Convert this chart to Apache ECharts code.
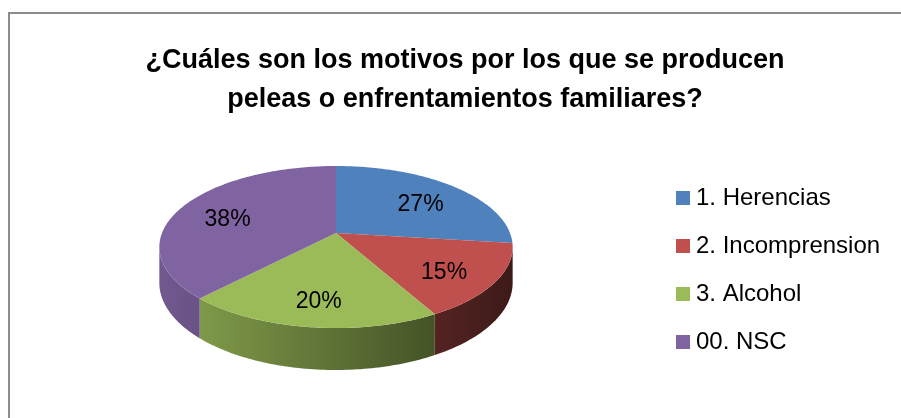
<!DOCTYPE html>
<html>
<head>
<meta charset="utf-8">
<script src="https://cdn.jsdelivr.net/npm/echarts@6/dist/echarts.min.js"></script>
<style>
html, body { margin: 0; padding: 0; background: #fff; overflow: hidden; }
#chart { width: 901px; height: 418px; }
#frame {
  position: absolute; left: 8px; top: 12px;
  width: 1000px; height: 1000px;
  border: 2px solid #8c8c8c; pointer-events: none;
}
</style>
</head>
<body>
<div id="chart"></div>
<div id="frame"></div>
<script>
// data (percent shares)
var categories = ['1. Herencias', '2. Incomprension', '3. Alcohol', '00. NSC'];
var values = [27, 15, 20, 38];
var colors = ['#4F81BD', '#C0504D', '#9BBB59', '#8064A2'];

// 3d pie layout
var CX = 336, CY = 233, RX = 174, RY = 78.6, P = 0.173, H = 34.7;
var FONT = '"Liberation Sans", Arial, sans-serif';

var total = values.reduce(function (a, b) { return a + b; }, 0);
var starts = [];
var acc = 0;
values.forEach(function (v) { starts.push(acc / total * 360); acc += v; });

function proj(theta, r, depth) {
  var t = theta * Math.PI / 180;
  var u = r * Math.sin(t), v = -r * Math.cos(t);
  var s = 1 / (1 - P * v);
  return [CX + RX * u * s, CY + (RY * v + depth) * s];
}

function shade(hex, f) {
  var n = parseInt(hex.slice(1), 16);
  var r = Math.round(((n >> 16) & 255) * f), g = Math.round(((n >> 8) & 255) * f), b = Math.round((n & 255) * f);
  return 'rgb(' + r + ',' + g + ',' + b + ')';
}

var visA = Math.acos(-P) * 180 / Math.PI, visB = 360 - visA;

function makeRender(i) {
  return function (params, api) {
    var a0 = starts[i], a1 = a0 + api.value(0) / total * 360;
    var children = [];
    // side face
    var s0 = Math.max(a0, visA), s1 = Math.min(a1, visB);
    if (s1 > s0) {
      var side = [], t;
      for (t = s0; t < s1; t += 1) side.push(proj(t, 1, 0));
      side.push(proj(s1, 1, 0));
      for (t = s1; t > s0; t -= 1) side.push(proj(t, 1, H));
      side.push(proj(s0, 1, H));
      children.push({
        type: 'polygon', z2: 1,
        shape: { points: side },
        style: {
          fill: {
            type: 'linear', global: true,
            x: CX - RX, y: 0, x2: CX + RX, y2: 0,
            colorStops: [{ offset: 0, color: shade(colors[i], 0.88) }, { offset: 1, color: shade(colors[i], 0.32) }]
          }
        }
      });
    }
    // top face
    var top = [proj(0, 0, 0)];
    for (var a = a0; a < a1; a += 1) top.push(proj(a, 1, 0));
    top.push(proj(a1, 1, 0));
    children.push({ type: 'polygon', z2: 10, shape: { points: top }, style: { fill: colors[i] } });
    // data label
    var lp = proj((a0 + a1) / 2, 0.7, 6);
    children.push({
      type: 'text', z2: 20, x: lp[0], y: lp[1],
      style: {
        text: Math.round(api.value(0) / total * 100) + '%',
        fill: '#000', fontSize: 23, fontFamily: FONT,
        textAlign: 'center', textVerticalAlign: 'middle'
      }
    });
    return { type: 'group', children: children };
  };
}

var chart = echarts.init(document.getElementById('chart'));
var series = categories.map(function (name, i) {
  return {
    type: 'custom',
    name: name,
    coordinateSystem: 'none',
    itemStyle: { color: colors[i] },
    renderItem: makeRender(i),
    data: [values[i]],
    animation: false
  };
});

chart.setOption({
  animation: false,
  color: colors,
  title: {
    text: '¿Cuáles son los motivos por los que se producen\npeleas o enfrentamientos familiares?',
    left: 460, top: 36, textAlign: 'center',
    textStyle: { fontSize: 27, fontWeight: 'bold', color: '#000', fontFamily: FONT, lineHeight: 39 }
  },
  legend: {
    orient: 'vertical',
    left: 676, top: 186, padding: 0,
    icon: 'rect', itemWidth: 14, itemHeight: 14, itemGap: 24,
    textStyle: { fontSize: 24, color: '#000', fontFamily: FONT, padding: [0, 0, 0, 1] },
    data: categories
  },
  series: series
});
</script>
</body>
</html>
